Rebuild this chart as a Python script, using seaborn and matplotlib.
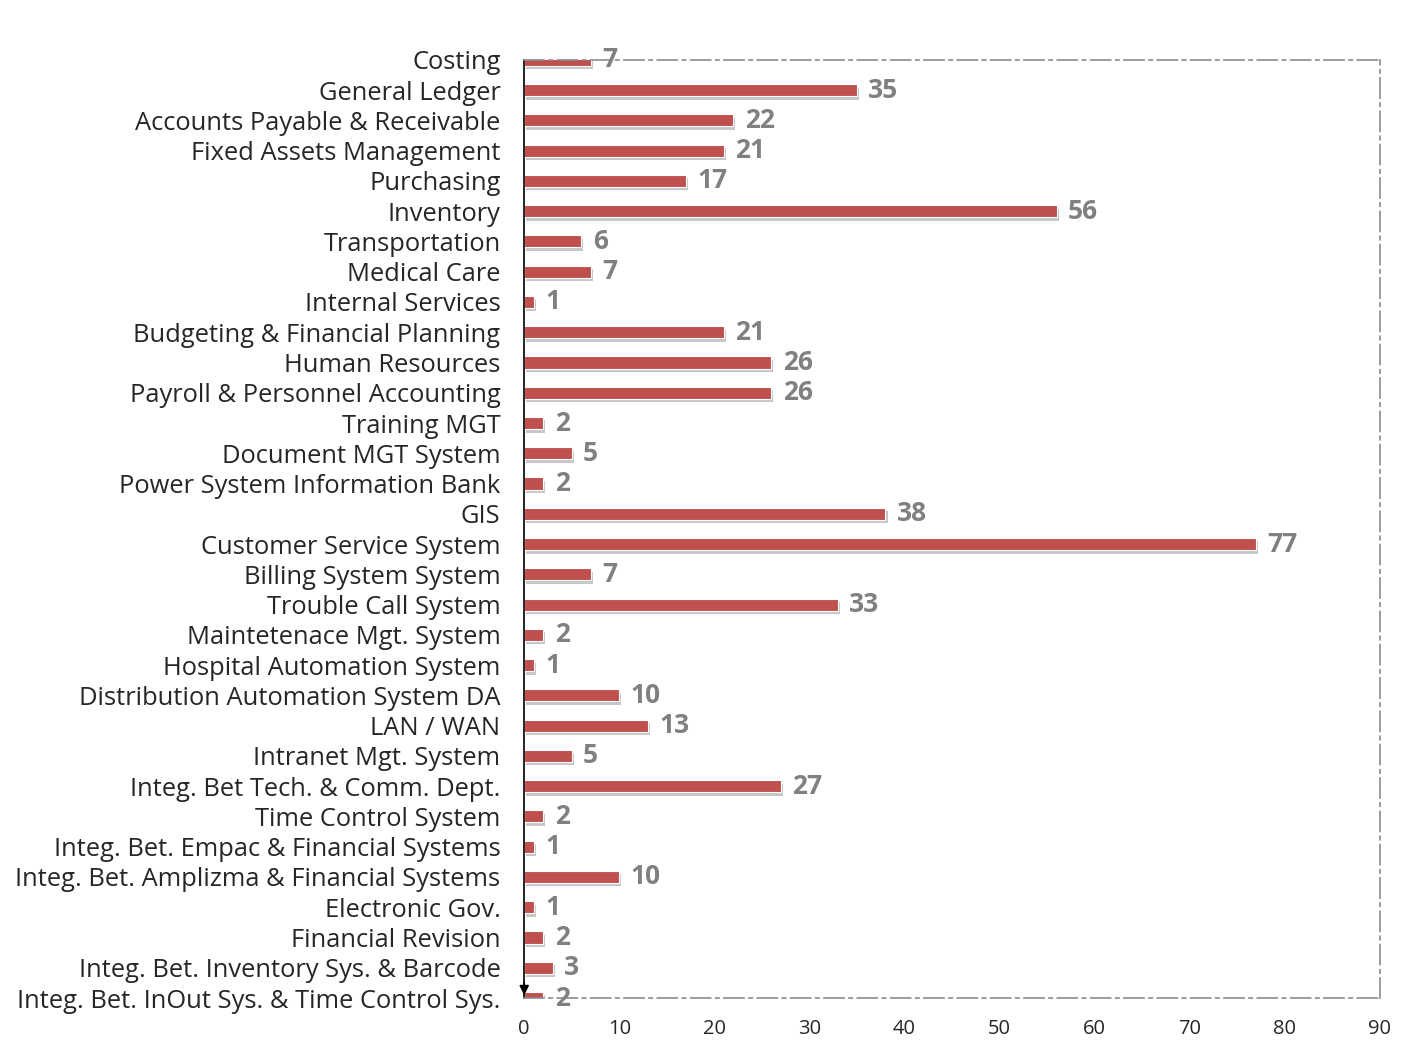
import matplotlib
matplotlib.use('Agg')
import matplotlib.pyplot as plt
import matplotlib.patheffects as pe
import seaborn as sns
import pandas as pd

# data
systems = [
    'Costing', 'General Ledger', 'Accounts Payable & Receivable', 'Fixed Assets Management',
    'Purchasing', 'Inventory', 'Transportation', 'Medical Care', 'Internal Services',
    'Budgeting & Financial Planning', 'Human Resources', 'Payroll & Personnel Accounting',
    'Training MGT', 'Document MGT System', 'Power System Information Bank', 'GIS',
    'Customer Service System', 'Billing System System', 'Trouble Call System',
    'Maintetenace Mgt. System', 'Hospital Automation System',
    'Distribution Automation System DA', 'LAN / WAN', 'Intranet Mgt. System',
    'Integ. Bet Tech. & Comm. Dept.', 'Time Control System',
    'Integ. Bet. Empac & Financial Systems', 'Integ. Bet. Amplizma & Financial Systems',
    'Electronic Gov.', 'Financial Revision', 'Integ. Bet. Inventory Sys. & Barcode',
    'Integ. Bet. InOut Sys. & Time Control Sys.',
]
counts = [7, 35, 22, 21, 17, 56, 6, 7, 1, 21, 26, 26, 2, 5, 2, 38, 77, 7, 33, 2, 1,
          10, 13, 5, 27, 2, 1, 10, 1, 2, 3, 2]
xticks = [0, 10, 20, 30, 40, 50, 60, 70, 80, 90]

df = pd.DataFrame({'system': systems, 'count': counts})

sns.set_style('white')
plt.rcParams['font.family'] = ['Open Sans', 'DejaVu Sans']

fig = plt.figure(figsize=(14.13, 10.5), dpi=100)
ax = fig.add_axes([0.371, 0.0495, 0.6055, 0.8935])

sns.barplot(data=df, y='system', x='count', orient='h', color='#C0504D',
            width=0.4, saturation=1, ax=ax)

# excel-like soft shadow under each bar
shadow = [pe.SimplePatchShadow(offset=(1.5, -2.5), shadow_rgbFace='#999999', alpha=0.55), pe.Normal()]
for p in ax.patches:
    p.set_edgecolor('white')
    p.set_linewidth(0.8)
    p.set_path_effects(shadow)

for i, v in enumerate(counts):
    ax.text(v + 1.2, i, str(v), va='center', ha='left', fontsize=19,
            fontweight='bold', color='#808080', clip_on=False)

ax.set_xlim(0, 90)
ax.set_ylim(len(systems) - 1, 0)
ax.set_xticks(xticks)
ax.set_xlabel('')
ax.set_ylabel('')
ax.tick_params(axis='x', labelsize=14.5, length=0, pad=15)
ax.tick_params(axis='y', labelsize=18.4, length=0, pad=17)

for side in ['top', 'right', 'bottom']:
    ax.spines[side].set_visible(True)
    ax.spines[side].set_color('#8c8c8c')
    ax.spines[side].set_linestyle((0, (12, 3, 2, 3)))
    ax.spines[side].set_linewidth(1.2)
ax.spines['left'].set_color('black')
ax.spines['left'].set_linewidth(1.2)
ax.annotate('', xy=(0, len(systems) - 1), xytext=(0, len(systems) - 1.6),
            arrowprops=dict(arrowstyle='-|>', color='black', lw=1.2, mutation_scale=14),
            annotation_clip=False)

plt.savefig('out.png', dpi=100)
